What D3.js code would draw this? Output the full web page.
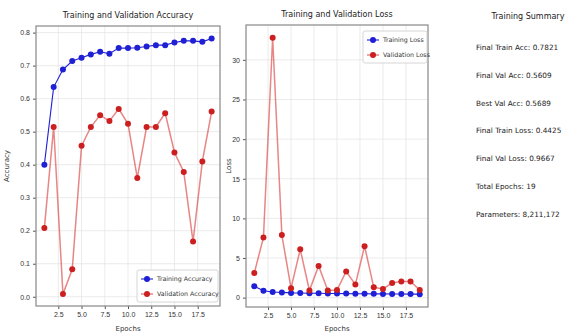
<!DOCTYPE html>
<html>
<head>
<meta charset="utf-8">
<script src="https://cdn.jsdelivr.net/npm/d3@7"></script>
<style>
  body { margin: 0; background: #fff; }
  svg { font-family: "DejaVu Sans", sans-serif; }
</style>
</head>
<body>
<div id="chart"></div>
<script>
var epochs = [1, 2, 3, 4, 5, 6, 7, 8, 9, 10, 11, 12, 13, 14, 15, 16, 17, 18, 19];
var trainAcc = [0.400, 0.635, 0.688, 0.714, 0.724, 0.734, 0.742, 0.736, 0.753, 0.753, 0.754, 0.758, 0.762, 0.762, 0.770, 0.775, 0.775, 0.772, 0.7821];
var valAcc = [0.208, 0.514, 0.008, 0.083, 0.457, 0.514, 0.550, 0.532, 0.5689, 0.524, 0.360, 0.514, 0.514, 0.556, 0.437, 0.378, 0.167, 0.410, 0.5609];
var trainLoss = [1.45, 0.88, 0.72, 0.66, 0.60, 0.58, 0.56, 0.55, 0.53, 0.52, 0.51, 0.50, 0.49, 0.48, 0.47, 0.46, 0.46, 0.45, 0.4425];
var valLoss = [3.1, 7.6, 32.8, 7.9, 1.2, 6.1, 0.9, 4.0, 0.9, 0.95, 3.3, 1.65, 6.5, 1.3, 1.1, 1.85, 2.05, 2.05, 0.9667];
var xTicks = [2.5, 5.0, 7.5, 10.0, 12.5, 15.0, 17.5];
var accTicks = [0.0, 0.1, 0.2, 0.3, 0.4, 0.5, 0.6, 0.7, 0.8];
var lossTicks = [0, 5, 10, 15, 20, 25, 30];
var summary = [
  "Final Train Acc: 0.7821",
  "Final Val Acc: 0.5609",
  "Best Val Acc: 0.5689",
  "Final Train Loss: 0.4425",
  "Final Val Loss: 0.9667",
  "Total Epochs: 19",
  "Parameters: 8,211,172"
];

var width = 588, height = 336;
var svg = d3.select("#chart").append("svg")
  .attr("width", width).attr("height", height);

function panel(opts) {
  var x = d3.scaleLinear().domain([0.1, 19.9]).range([opts.left, opts.right]);
  var y = d3.scaleLinear().domain(opts.ydomain).range([opts.bottom, opts.top]);
  var g = svg.append("g");

  // grid
  g.selectAll(".gx").data(xTicks).enter().append("line")
    .attr("x1", d => x(d)).attr("x2", d => x(d))
    .attr("y1", opts.top).attr("y2", opts.bottom)
    .attr("stroke", "#e2e2e2").attr("stroke-width", 0.7);
  g.selectAll(".gy").data(opts.yticks).enter().append("line")
    .attr("y1", d => y(d)).attr("y2", d => y(d))
    .attr("x1", opts.left).attr("x2", opts.right)
    .attr("stroke", "#e2e2e2").attr("stroke-width", 0.7);

  var xAxis = d3.axisBottom(x).tickValues(xTicks).tickFormat(d3.format(".1f")).tickSize(3).tickPadding(3);
  var yAxis = d3.axisLeft(y).tickValues(opts.yticks).tickFormat(opts.yfmt).tickSize(3).tickPadding(3);
  var ax = g.append("g").attr("transform", "translate(0," + opts.bottom + ")").call(xAxis);
  var ay = g.append("g").attr("transform", "translate(" + opts.left + ",0)").call(yAxis);
  [ax, ay].forEach(function (a) {
    a.select(".domain").remove();
    a.selectAll("line").attr("stroke", "#555");
    a.selectAll("text").attr("fill", "#333").style("font-size", "7px");
  });

  g.append("rect")
    .attr("x", opts.left).attr("y", opts.top)
    .attr("width", opts.right - opts.left).attr("height", opts.bottom - opts.top)
    .attr("fill", "none").attr("stroke", "#888").attr("stroke-width", 1.2);

  var line = d3.line().x((d, i) => x(epochs[i])).y(d => y(d));
  opts.series.forEach(function (s) {
    g.append("path").datum(s.values)
      .attr("d", line).attr("fill", "none")
      .attr("stroke", s.color).attr("stroke-width", s.width).attr("stroke-opacity", s.alpha);
    g.selectAll(null).data(s.values).enter().append("circle")
      .attr("cx", (d, i) => x(epochs[i])).attr("cy", d => y(d))
      .attr("r", 3).attr("fill", s.dot);
  });

  g.append("text")
    .attr("x", (opts.left + opts.right) / 2).attr("y", opts.top - 8)
    .attr("text-anchor", "middle").style("font-size", "8px").attr("fill", "#222")
    .text(opts.title);
  g.append("text")
    .attr("x", (opts.left + opts.right) / 2).attr("y", 331)
    .attr("text-anchor", "middle").style("font-size", "7px").attr("fill", "#333")
    .text("Epochs");
  g.append("text")
    .attr("transform", "translate(" + opts.ylabelX + "," + ((opts.top + opts.bottom) / 2) + ") rotate(-90)")
    .attr("text-anchor", "middle").style("font-size", "7px").attr("fill", "#333")
    .text(opts.ylabel);

  // legend
  var lg = g.append("g").attr("transform", "translate(" + opts.legend[0] + "," + opts.legend[1] + ")");
  lg.append("rect").attr("width", opts.legend[2]).attr("height", 32)
    .attr("fill", "#fff").attr("fill-opacity", 0.85)
    .attr("stroke", "#ccc").attr("stroke-width", 0.8).attr("rx", 2);
  opts.series.forEach(function (s, i) {
    var yy = 9 + i * 15;
    lg.append("line").attr("x1", 4).attr("x2", 16).attr("y1", yy).attr("y2", yy)
      .attr("stroke", s.color).attr("stroke-width", s.width).attr("stroke-opacity", s.alpha);
    lg.append("circle").attr("cx", 10).attr("cy", yy).attr("r", 3).attr("fill", s.dot);
    lg.append("text").attr("x", 20).attr("y", yy + 2.3)
      .style("font-size", "6.3px").attr("fill", "#333").text(s.name);
  });
}

panel({
  left: 36, right: 220, top: 26, bottom: 306,
  ydomain: [-0.028, 0.82], yticks: accTicks, yfmt: d3.format(".1f"),
  title: "Training and Validation Accuracy", ylabel: "Accuracy", ylabelX: 9,
  legend: [137, 270, 81],
  series: [
    { name: "Training Accuracy", values: trainAcc, color: "#1f1fd6", dot: "#1f1fd6", alpha: 1, width: 1.1 },
    { name: "Validation Accuracy", values: valAcc, color: "#d62020", dot: "#cc1f1f", alpha: 0.55, width: 1.5 }
  ]
});

panel({
  left: 246, right: 428, top: 25, bottom: 307,
  ydomain: [-1.18, 34.4], yticks: lossTicks, yfmt: d3.format("d"),
  title: "Training and Validation Loss", ylabel: "Loss", ylabelX: 231,
  legend: [363, 31, 64],
  series: [
    { name: "Training Loss", values: trainLoss, color: "#1f1fd6", dot: "#1f1fd6", alpha: 1, width: 1.1 },
    { name: "Validation Loss", values: valLoss, color: "#d62020", dot: "#cc1f1f", alpha: 0.55, width: 1.5 }
  ]
});

// summary panel
svg.append("text").attr("x", 528).attr("y", 19)
  .attr("text-anchor", "middle").style("font-size", "8px").attr("fill", "#222")
  .text("Training Summary");
svg.selectAll(".sum").data(summary).enter().append("text")
  .attr("x", 476).attr("y", (d, i) => 50 + i * 27.8)
  .style("font-size", "7.3px").attr("fill", "#222")
  .text(d => d);
</script>
</body>
</html>
